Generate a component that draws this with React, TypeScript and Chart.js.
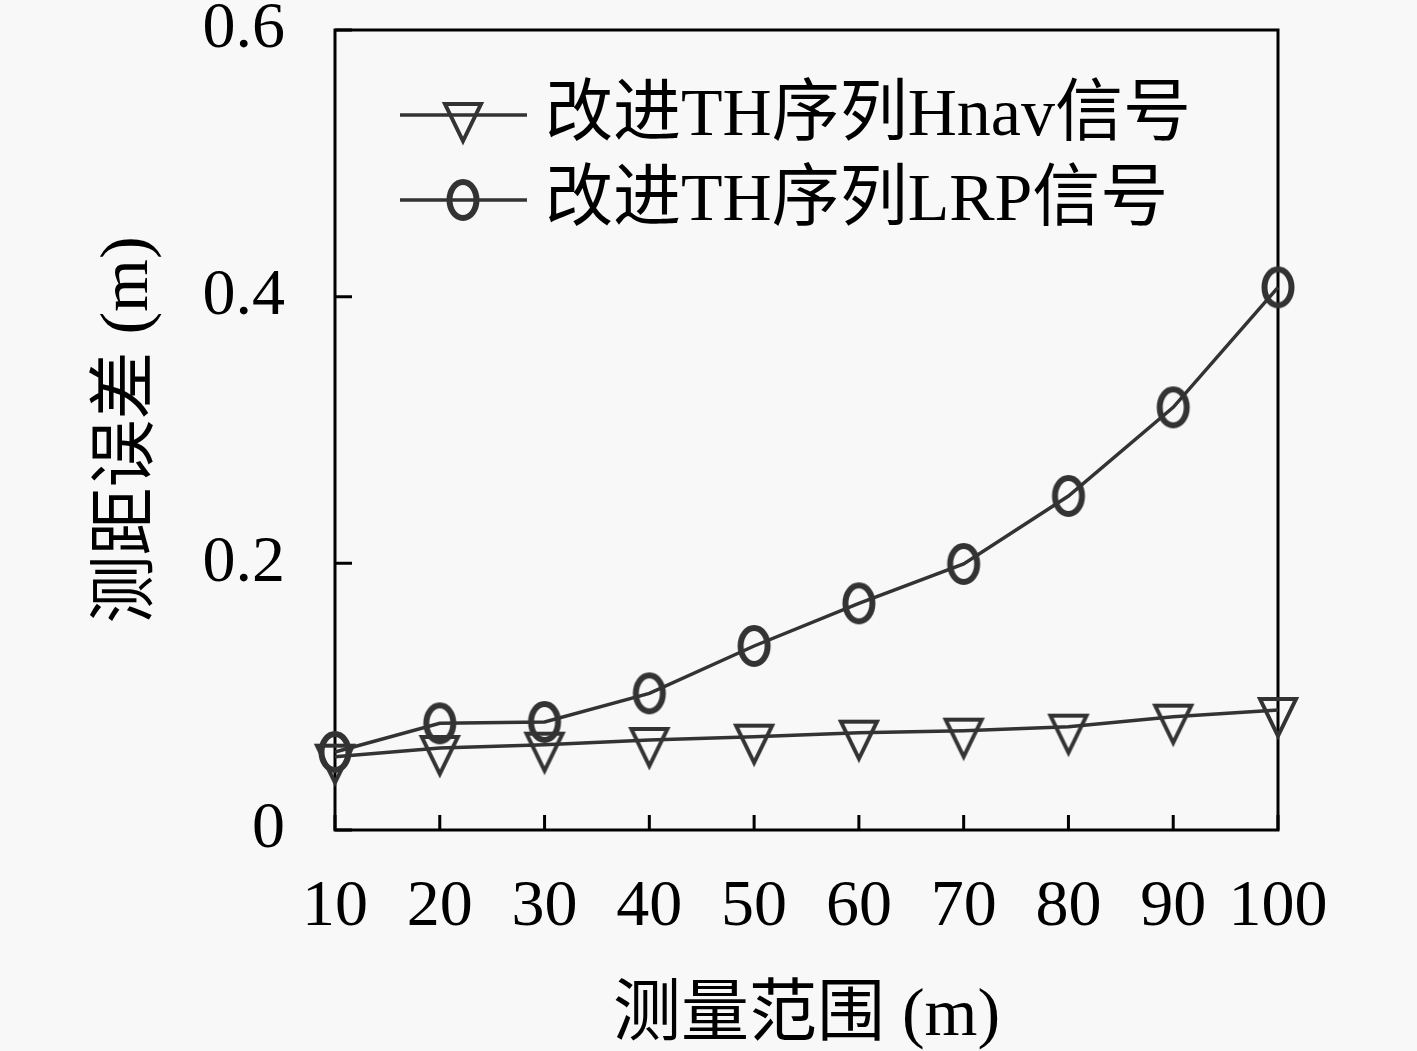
import React, { useEffect, useRef } from 'react';
import { Chart, registerables } from 'chart.js';

Chart.register(...registerables);

// chart data
const xLabels = ['10', '20', '30', '40', '50', '60', '70', '80', '90', '100'];
const hnavValues = [0.055, 0.0615, 0.064, 0.0675, 0.07, 0.073, 0.0745, 0.0775, 0.085, 0.09];
const lrpValues = [0.0585, 0.08, 0.081, 0.1025, 0.138, 0.17, 0.1995, 0.2505, 0.317, 0.407];
const yTicks = [0, 0.2, 0.4, 0.6];
const seriesNames = ['改进TH序列Hnav信号', '改进TH序列LRP信号'];
const xTitle = '测量范围 (m)';
const yTitle = '测距误差 (m)';

const FONT = '"Liberation Serif", "Noto Sans CJK SC", serif';
const LINE = '#333333';

// downward triangle, line vertex sits about a quarter down from the top edge
const makeTriangle = () => {
  const c = document.createElement('canvas');
  c.width = 46;
  c.height = 62;
  const ctx = c.getContext('2d')!;
  ctx.strokeStyle = LINE;
  ctx.lineWidth = 4;
  ctx.beginPath();
  ctx.moveTo(5, 20);
  ctx.lineTo(41, 20);
  ctx.lineTo(23, 57);
  ctx.closePath();
  ctx.stroke();
  return c;
};

// tall open ellipse
const makeEllipse = () => {
  const c = document.createElement('canvas');
  c.width = 42;
  c.height = 50;
  const ctx = c.getContext('2d')!;
  ctx.strokeStyle = LINE;
  ctx.lineWidth = 6;
  ctx.beginPath();
  ctx.ellipse(21, 25, 13.5, 18, 0, 0, Math.PI * 2);
  ctx.stroke();
  return c;
};

// box around the plot plus inward tick marks
const framePlugin = {
  id: 'frame',
  beforeDatasetsDraw(chart: any) {
    const { ctx, chartArea, scales } = chart;
    const { left, top, right, bottom } = chartArea;
    ctx.save();
    ctx.strokeStyle = '#000';
    ctx.lineWidth = 3;
    ctx.strokeRect(left, top, right - left, bottom - top);
    ctx.beginPath();
    scales.x.ticks.forEach((_: any, i: number) => {
      const x = scales.x.getPixelForTick(i);
      ctx.moveTo(x, bottom);
      ctx.lineTo(x, bottom - 15);
    });
    scales.y.ticks.forEach((_: any, i: number) => {
      const y = scales.y.getPixelForTick(i);
      ctx.moveTo(left, y);
      ctx.lineTo(left + 17, y);
    });
    ctx.stroke();
    ctx.restore();
  },
};

// legend with the line running through the marker
const legendPlugin = {
  id: 'lineLegend',
  afterDatasetsDraw(chart: any) {
    const { ctx, chartArea } = chart;
    const { left, top } = chartArea;
    ctx.save();
    chart.data.datasets.forEach((ds: any, i: number) => {
      const y = top + 85 + i * 85;
      ctx.strokeStyle = LINE;
      ctx.lineWidth = 3.5;
      ctx.beginPath();
      ctx.moveTo(left + 65, y);
      ctx.lineTo(left + 192, y);
      ctx.stroke();
      const img = ds.pointStyle as HTMLCanvasElement;
      ctx.drawImage(img, left + 128 - img.width / 2, y - img.height / 2);
      ctx.fillStyle = '#000';
      ctx.font = `68px ${FONT}`;
      ctx.textAlign = 'left';
      ctx.textBaseline = 'middle';
      ctx.fillText(ds.label, left + 210, y + 2);
    });
    ctx.restore();
  },
};

const App: React.FC = () => {
  const chartRef = useRef<HTMLCanvasElement>(null);
  const chartInstance = useRef<Chart | null>(null);

  useEffect(() => {
    document.body.style.margin = '0';
    document.body.style.background = '#f8f8f8';
    if (!chartRef.current) return;

    const tri = makeTriangle();
    const ell = makeEllipse();

    chartInstance.current = new Chart(chartRef.current, {
      type: 'line',
      data: {
        labels: xLabels,
        datasets: [
          {
            label: seriesNames[0],
            data: hnavValues,
            borderColor: LINE,
            borderWidth: 3.5,
            pointStyle: tri as any,
            pointRadius: 20,
            fill: false,
            tension: 0,
            clip: false as any,
          },
          {
            label: seriesNames[1],
            data: lrpValues,
            borderColor: LINE,
            borderWidth: 3.5,
            pointStyle: ell as any,
            pointRadius: 20,
            fill: false,
            tension: 0,
            clip: false as any,
          },
        ],
      },
      options: {
        responsive: true,
        maintainAspectRatio: false,
        animation: false,
        layout: { padding: { top: 30, right: 139, bottom: 0, left: 0 } },
        plugins: {
          legend: { display: false },
          tooltip: { enabled: false },
        },
        scales: {
          x: {
            type: 'category',
            grid: { display: false, drawTicks: false },
            border: { display: false },
            ticks: {
              color: '#000',
              font: { family: FONT, size: 66, lineHeight: 1.2 },
              padding: 38,
              maxRotation: 0,
              autoSkip: false,
            },
            title: {
              display: true,
              text: xTitle,
              color: '#000',
              font: { family: FONT, size: 68, lineHeight: 1.0 },
              padding: { top: 0, bottom: 0 },
            },
            afterFit: (s: any) => {
              s.height = 221;
              s.paddingLeft = 0;
              s.paddingRight = 0;
            },
          },
          y: {
            min: 0,
            max: 0.6,
            grid: { display: false, drawTicks: false },
            border: { display: false },
            afterBuildTicks: (s: any) => {
              s.ticks = yTicks.map((v) => ({ value: v }));
            },
            ticks: {
              color: '#000',
              font: { family: FONT, size: 66, lineHeight: 1.0 },
              padding: 50,
              callback: (v: any) => String(v),
            },
            title: {
              display: true,
              text: yTitle,
              color: '#000',
              font: { family: FONT, size: 68, lineHeight: 1.2 },
              padding: { top: 88, bottom: 0 },
            },
            afterFit: (s: any) => {
              s.width = 335;
              s.paddingTop = 0;
              s.paddingBottom = 0;
            },
          },
        },
      },
      plugins: [framePlugin, legendPlugin],
    });

    return () => {
      if (chartInstance.current) {
        chartInstance.current.destroy();
        chartInstance.current = null;
      }
    };
  }, []);

  return (
    <div style={{ width: 1417, height: 1051, position: 'relative' }}>
      <canvas ref={chartRef} />
    </div>
  );
};

export default App;
